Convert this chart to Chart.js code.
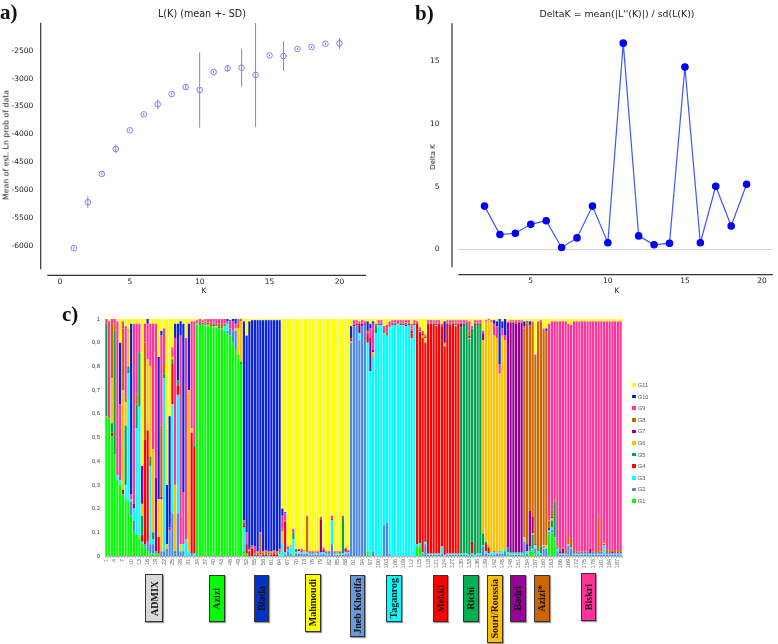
<!DOCTYPE html>
<html>
<head>
<meta charset="utf-8">
<script src="https://cdn.jsdelivr.net/npm/chart.js@4.4.1/dist/chart.umd.min.js"></script>
<style>
body{margin:0;background:#fff;width:778px;height:644px;position:relative;overflow:hidden;font-family:"DejaVu Sans",sans-serif}
canvas{position:absolute}
.t{position:absolute;white-space:nowrap;color:#222;transform:translate(-50%,-50%)}
.rot{transform:translate(-50%,-50%) rotate(-90deg)}
.pl{position:absolute;font:bold 21px "Liberation Serif",serif;color:#111;line-height:1}
.pop{position:absolute;border:1.5px solid #333;box-sizing:border-box;display:flex;align-items:center;justify-content:center;box-shadow:1px 1px 1px #999}
.pop span{writing-mode:vertical-rl;transform:rotate(180deg);font:bold 10px "Liberation Serif",serif;color:#111;white-space:nowrap}
.lg{position:absolute;font:5.5px "Liberation Sans",sans-serif;color:#555;display:flex;align-items:center}
.lg i{display:inline-block;width:3.5px;height:3.5px;margin-right:2.5px}
</style>
</head>
<body>
<canvas id="ca" width="390" height="300" style="left:0;top:0"></canvas>
<canvas id="cb" width="388" height="300" style="left:390px;top:0"></canvas>
<canvas id="cc" width="580" height="290" style="left:60px;top:300px"></canvas>

<div class="pl" style="left:0;top:2px">a)</div>
<div class="pl" style="left:415px;top:3px">b)</div>
<div class="pl" style="left:62px;top:304px">c)</div>

<div class="t" style="left:202px;top:13px;font-size:9.6px">L(K) (mean +- SD)</div>
<div class="t" style="left:617px;top:13px;font-size:9.4px">DeltaK = mean(|L''(K)|) / sd(L(K))</div>
<div class="t rot" style="left:6px;top:145px;font-size:7.8px">Mean of est. Ln prob of data</div>
<div class="t rot" style="left:433px;top:157px;font-size:7px">Delta K</div>
<div class="t" style="left:204px;top:290px;font-size:7.5px">K</div>
<div class="t" style="left:617px;top:290px;font-size:7.5px">K</div>

<div id="legend"></div>
<div id="pops"></div>

<script>
// ---- panel a : L(K) mean +- SD
const kVals = [1, 2, 3, 4, 5, 6, 7, 8, 9, 10, 11, 12, 13, 14, 15, 16, 17, 18, 19, 20];
const lkMean = [-6042, -5218, -4710, -4262, -3928, -3641, -3462, -3277, -3151, -3205,
                -2882, -2817, -2805, -2936, -2584, -2596, -2470, -2434, -2375, -2369];
const lkSd = [25, 104, 25, 80, 20, 25, 86, 25, 54, 675, 25, 60, 338, 935, 20, 266, 20, 20, 25, 100];
const aTicksY = [-6000, -5500, -5000, -4500, -4000, -3500, -3000, -2500];
const aTicksX = [0, 5, 10, 15, 20];

// ---- panel b : Delta K
const dkK = [2, 3, 4, 5, 6, 7, 8, 9, 10, 11, 12, 13, 14, 15, 16, 17, 18, 19];
const deltaK = [3.45, 1.19, 1.29, 2.0, 2.29, 0.16, 0.92, 3.45, 0.53, 16.42,
                1.08, 0.37, 0.5, 14.52, 0.53, 5.03, 1.87, 5.19];
const bTicksY = [0, 5, 10, 15];
const bTicksX = [5, 10, 15, 20];

// ---- panel c : membership per individual, columns G1..G11
const groups = ['G1', 'G2', 'G3', 'G4', 'G5', 'G6', 'G7', 'G8', 'G9', 'G10', 'G11'];
const groupColors = ['#00ff00', '#4f88e6', '#00ffff', '#ff0000', '#00a550', '#ffc000',
                     '#990099', '#cc6600', '#ff3399', '#0a22d8', '#ffff00'];

const admix = [
  [.59,0,0,0,.39,0,0,0,.02,0,0],
  [.58,0,0,0,0,0,0,0,.41,0,.01],
  [.505,0,0,.015,.04,.19,0,.23,.02,0,0],
  [.43,0,0,0,.52,0,0,.03,.02,0,0],
  [.32,0,.02,0,0,0,0,0,.65,0,.01],
  [.30,0,.02,0,0,0,0,0,.32,.26,.10],
  [.26,0,0,.02,0,.42,0,.26,.03,0,.01],
  [.24,0,.06,0,.25,.10,0,.02,.30,0,.03],
  [.23,0,.54,0,.03,.16,0,0,0,0,.04],
  [.17,.06,.01,0,0,0,0,0,.02,.72,.02],
  [.10,.05,.05,0,0,0,.02,0,.76,0,.02],
  [.09,0,.45,0,.10,0,0,.04,.30,0,.02],
  [.08,0,.55,0,.23,0,0,0,.12,0,.02],
  [.05,0,.01,.03,.08,.05,.16,0,0,0,.62],
  [.04,.01,0,.44,0,0,0,.41,.08,0,.02],
  [.02,.04,0,.47,0,.30,0,0,.15,.02,0],
  [.01,.04,.33,0,.04,.38,0,0,.18,0,.02],
  [.01,.04,.02,0,.03,.35,0,0,.53,0,.02],
  [.01,.01,0,0,0,0,.31,0,.65,0,.02],
  [.01,0,0,.07,0,.16,0,0,0,.60,.16],
  [0,.02,0,0,0,.22,.01,.30,.38,.02,.05],
  [0,.02,.73,0,.02,0,0,.04,.15,0,.04],
  [0,.03,0,0,0,.02,0,0,0,.25,.70],
  [0,.11,0,.01,0,0,0,0,0,.47,.41],
  [0,.18,.46,.17,.02,.01,0,0,.04,0,.12],
  [0,.01,0,0,.01,.28,0,0,.62,.06,.02],
  [0,.18,.50,.04,.02,0,0,0,0,.24,.02],
  [0,.02,0,0,0,.03,0,0,.88,.06,.01],
  [0,.02,.03,0,0,0,0,0,.22,.71,.02],
  [0,0,.07,0,0,0,0,0,.85,0,.08],
  [0,0,.02,0,0,.68,0,0,0,.28,.02],
  [0,.01,0,.51,0,.02,0,0,.45,0,.01],
  [0,0,.01,.45,.01,0,0,0,.52,0,.01]
];
const azizi = [
  [.975,0,.005,0,0,0,0,.005,.01,0,.005],
  [.975,0,0,0,.005,0,.005,.005,.01,0,0],
  [.975,0,0,0,0,0,0,.01,.01,0,.005],
  [.97,0,.005,0,.005,0,0,.01,.01,0,0],
  [.97,0,0,0,0,.005,0,.01,.015,0,0],
  [.97,0,0,0,.005,0,0,.01,.015,0,0],
  [.965,0,.005,0,0,0,.005,.01,.015,0,0],
  [.965,0,0,0,0,.005,0,.01,.02,0,0],
  [.96,0,0,0,.01,0,0,.01,.02,0,0],
  [.955,.005,0,0,0,0,0,.02,.02,0,0],
  [.95,0,.02,0,0,0,0,.01,.02,0,0],
  [.94,.01,.03,0,0,0,0,0,.01,.01,0],
  [.93,.03,0,0,0,0,0,0,.03,.005,.005],
  [.90,.05,0,0,0,0,0,0,.04,.01,0],
  [.87,.08,0,0,0,.01,0,0,.02,.02,0],
  [.85,0,0,0,0,.11,0,.02,.02,0,0],
  [.81,0,0,0,.01,.17,0,.01,0,0,0]
];
const biada = [
  [.01,.01,.10,.01,.01,0,0,0,.01,.84,.01],
  [.01,0,0,.04,0,0,0,0,.05,.83,.07],
  [0,0,0,.02,0,.005,0,0,.005,.96,.01],
  [0,0,0,.03,0,0,0,.005,.01,.95,.005],
  [0,.005,0,0,.005,0,0,0,.03,.955,.005],
  [0,0,0,.005,0,0,0,.01,.005,.975,.005],
  [0,.005,0,0,0,0,0,.09,.005,.895,.005],
  [0,0,0,.005,0,0,0,.01,.005,.975,.005],
  [0,0,0,.005,.005,0,0,.01,.005,.97,.005],
  [0,.005,0,0,0,0,0,.01,.005,.975,.005],
  [0,0,0,.005,0,0,0,.01,.005,.975,.005],
  [0,0,0,.005,0,0,.005,.01,.005,.97,.005],
  [0,0,0,.005,0,0,0,.01,.005,.975,.005],
  [0,0,.01,0,.005,0,0,.01,.005,.965,.005]
];
const mahmoudi = [
  [0,0,.055,0,0,.05,0,.005,.06,.03,.80],
  [0,.005,.01,.13,0,0,0,.005,.03,.005,.815],
  [0,.02,.01,0,0,0,.005,0,.005,0,.96],
  [0,.01,.025,0,0,.005,0,0,.005,0,.955],
  [.005,0,.065,0,.03,0,0,0,.015,0,.885],
  [0,.01,.005,0,.005,0,.005,0,.005,0,.97],
  [0,.01,.005,0,0,.005,.005,0,.005,0,.97],
  [0,.01,.005,0,0,0,.005,.005,.005,0,.97],
  [0,.01,.005,0,0,.005,0,0,.005,0,.975],
  [0,.01,.005,0,0,0,0,.15,.005,0,.83],
  [0,.005,.005,0,0,0,.005,0,.005,0,.98],
  [0,.005,.005,0,0,0,.005,0,.005,0,.98],
  [0,.005,.005,0,0,0,0,.005,.005,0,.98],
  [0,.005,.005,0,0,0,.005,0,.005,0,.98],
  [0,.005,.01,0,0,0,.14,0,.01,0,.835],
  [0,.01,.005,0,0,0,.01,.005,.005,0,.965],
  [0,.005,.005,0,0,0,.005,0,.005,0,.98],
  [0,.005,.005,0,0,0,.005,0,.005,0,.98],
  [0,.05,.10,0,0,0,.005,0,.015,0,.83],
  [0,.005,.005,0,0,0,.005,0,.005,0,.98],
  [0,.005,.005,0,0,0,0,.005,.005,0,.98],
  [0,.005,.005,0,0,0,.005,0,.005,0,.98],
  [0,.005,.005,0,.15,0,0,0,.01,0,.83],
  [0,.01,.005,.005,0,0,.01,0,.005,0,.965],
  [0,.01,.005,0,0,0,.005,0,.005,0,.975]
];
const jnebKhotifa = [
  [0,.90,.005,.01,0,0,0,0,.005,.05,.03],
  [0,.97,0,0,0,0,.005,.005,.015,0,.005],
  [0,.975,0,0,0,0,.005,.005,.01,0,.005],
  [0,.91,.03,0,0,0,.04,0,.01,0,.01],
  [0,.97,0,0,0,0,.01,.005,.01,0,.005],
  [0,.975,0,0,0,0,.005,0,.01,0,.01]
];
const taganrog = [
  [.02,0,.88,.04,0,0,0,0,.01,.04,.01],
  [0,0,.78,0,0,0,.14,0,.04,.02,.02],
  [0,.02,.82,0,0,.02,.01,0,.11,.01,.01],
  [0,0,.94,0,.03,0,0,0,.01,0,.02],
  [0,0,.975,0,0,0,.005,.005,.01,0,.005],
  [0,0,.975,0,0,0,.005,.005,.01,0,.005],
  [0,.13,.81,0,0,0,0,.01,.02,0,.03],
  [0,.14,.79,0,0,0,.005,.01,.03,0,.025],
  [0,.01,.955,0,0,0,0,.005,.02,0,.01],
  [0,0,.975,0,0,0,.005,.005,.01,0,.005],
  [0,0,.975,0,0,0,.005,.005,.01,0,.005],
  [0,0,.975,0,0,.005,.005,0,.01,0,.005],
  [0,0,.975,0,0,0,.005,.005,.01,0,.005],
  [0,0,.975,0,0,0,.005,.005,.01,0,.005],
  [0,0,.97,0,0,0,.005,.01,.01,0,.005],
  [0,0,.975,0,0,0,.005,.005,.01,0,.005],
  [0,0,.92,.02,0,0,.01,.01,.02,0,.02],
  [0,0,.975,0,0,0,.005,.005,.01,0,.005]
];
const mekki = [
  [.04,.005,.005,.93,0,0,0,0,.01,0,.01],
  [.04,.005,.01,.89,0,.005,.005,0,.01,0,.035],
  [0,.01,.005,.905,0,.01,.01,.005,.005,0,.05],
  [0,.05,.01,.84,0,.02,.005,.005,.005,0,.065],
  [0,.005,.005,.965,0,0,.005,.005,.01,0,.005],
  [0,.005,.005,.965,0,0,.005,.005,.01,0,.005],
  [0,.005,.005,.965,0,0,.005,.005,.01,0,.005],
  [0,.005,.005,.96,0,.005,.005,.005,.01,0,.005],
  [0,.005,.005,.965,0,0,.005,.005,.01,0,.005],
  [0,.01,.03,.93,0,0,0,0,.01,0,.02],
  [0,0,.005,.88,0,.01,0,0,.005,.09,.01],
  [0,.005,.005,.965,0,0,.005,.005,.01,0,.005],
  [0,.005,.005,.96,0,0,.005,.01,.01,0,.005],
  [0,.005,.005,.965,0,0,.005,.005,.01,0,.005],
  [0,.005,.005,.96,0,.005,.005,.005,.01,0,.005],
  [0,.005,.005,.965,0,0,.005,.005,.01,0,.005]
];
const richi = [
  [0,.005,.005,0,.955,0,.015,.005,.01,0,.005],
  [0,.005,.005,0,.965,0,.005,.005,.01,0,.005],
  [0,.005,.005,0,.97,0,.005,.005,.005,0,.005],
  [0,0,.005,0,.91,.005,.01,.02,.04,0,.01],
  [0,.005,.005,.05,.90,0,0,0,.01,0,.03],
  [0,0,.005,0,.97,0,.005,.005,.01,0,.005],
  [0,.005,.005,0,.965,0,.005,.005,.01,0,.005],
  [0,.005,.005,0,.965,0,.005,.005,.01,0,.005]
];
const souriRoussia = [
  [0,.04,.005,0,.05,.815,.03,0,.01,0,.05],
  [0,.01,.01,.03,.01,.93,0,0,.005,0,.005],
  [0,.005,.005,.025,.005,.955,0,0,.005,0,0],
  [0,.005,.01,0,0,.97,0,0,.01,0,.005],
  [0,.005,.01,.005,0,.91,0,0,.05,.015,.005],
  [0,.01,.005,0,0,.905,0,0,.05,.02,.01],
  [0,.01,.005,0,.005,.75,.005,0,.035,.19,0],
  [0,.01,.01,0,0,.91,0,0,.03,.03,.01],
  [0,.02,.01,0,0,.88,0,0,.02,.07,0]
];
const badri = [
  [.005,.005,.005,0,.02,0,.95,0,.005,0,.01],
  [0,.005,.005,0,.005,0,.97,.005,.005,0,.005],
  [0,.005,.005,0,.005,0,.97,.005,.005,0,.005],
  [0,.005,.005,0,.005,0,.965,.01,.005,0,.005],
  [0,.005,.005,0,.005,0,.97,.005,.005,0,.005],
  [0,.005,.005,0,.005,0,.97,.005,.005,0,.005]
];
const aziziStar = [
  [.01,.05,.01,0,0,.01,0,.88,.01,.02,.01],
  [0,.01,.01,0,0,0,.03,.93,.005,.005,.01],
  [.02,.01,0,0,.01,0,.15,.78,.005,.015,.01],
  [.02,.005,.005,0,.06,.005,.07,.82,.005,0,.01],
  [.01,.02,.01,0,0,.005,.005,.79,.01,0,.15],
  [.005,.005,.01,0,0,0,0,.96,.01,0,.01],
  [0,.005,.005,0,.03,0,0,.95,.005,0,.005],
  [0,.03,.005,.005,0,.005,0,.91,.005,0,.04],
  [0,.03,.005,0,0,.01,0,.90,.005,.01,.04]
];
const biskri = [
  [.09,.01,.01,0,0,0,.01,.03,.83,0,.02],
  [.10,.01,.01,0,.03,.01,.005,.03,.795,0,.01],
  [.07,.005,.005,0,.15,0,0,.01,.75,0,.01],
  [0,.02,.01,0,.005,0,0,.005,.95,0,.01],
  [0,.005,.005,0,0,0,.01,.01,.96,0,.01],
  [0,.005,.005,0,0,0,.02,.005,.955,0,.01],
  [0,.005,.005,0,0,0,.005,.01,.965,0,.01],
  [.005,.04,.005,0,0,0,0,.03,.90,0,.02],
  [0,.03,.005,0,0,0,0,.04,.90,0,.025],
  [0,.005,.005,0,0,0,.005,.01,.965,0,.01],
  [0,.005,.005,0,0,0,.005,.005,.97,0,.01],
  [0,.005,.005,0,0,0,.005,.005,.97,0,.01],
  [0,.005,.005,0,0,0,.005,.005,.97,0,.01],
  [0,.005,.005,0,0,0,.005,.005,.97,0,.01],
  [0,.005,.005,0,0,0,.005,.005,.97,0,.01],
  [0,.005,.005,0,0,0,.02,.005,.955,0,.01],
  [0,.005,.005,0,0,0,.005,.005,.97,0,.01],
  [0,.005,.005,0,0,0,.005,.01,.965,0,.01],
  [0,.005,.005,0,0,0,.005,.15,.825,0,.01],
  [0,.005,.005,0,0,0,.005,.005,.97,0,.01],
  [0,.005,.04,.005,0,.005,0,.005,.93,0,.01],
  [0,.005,.005,0,0,0,.005,.01,.965,0,.01],
  [0,.005,.005,0,0,0,.005,.01,.965,0,.01],
  [0,.005,.005,0,0,0,.01,.005,.965,0,.01],
  [0,.005,.005,0,0,0,.005,.01,.965,0,.01],
  [0,.005,.005,0,0,0,.005,.01,.965,0,.01],
  [0,.005,.005,0,0,0,.005,.01,.965,0,.01]
];

const qRows = [...admix, ...azizi, ...biada, ...mahmoudi, ...jnebKhotifa, ...taganrog,
               ...mekki, ...richi, ...souriRoussia, ...badri, ...aziziStar, ...biskri];
const idLabels = qRows.map((r, i) => String(i + 1));

// population name boxes under panel c
const popNames = ['ADMIX', 'Azizi', 'Biada', 'Mahmoudi', 'Jneb Khotifa', 'Taganrog',
                  'Mekki', 'Richi', 'Souri/Roussia', 'Badri', 'Azizi*', 'Biskri'];
const popColors = ['#d9d9d9', '#00ff00', '#0033cc', '#ffff00', '#6699dd', '#00ffff',
                   '#ff0000', '#00b050', '#ffc000', '#990099', '#cc6600', '#ff3399'];
const popBoxes = [
  [145, 574, 18, 48], [209, 575, 15.5, 47], [253.5, 575, 15.5, 47], [305, 574, 15.5, 58],
  [349.5, 575, 15.5, 62], [386, 575, 15.5, 47], [432.5, 575, 15.5, 47], [463, 575, 15.5, 47],
  [487, 575, 15.5, 68], [510, 575, 15.5, 47], [534, 575, 15.5, 47], [580.5, 573, 15.5, 48]
];

const spines = {
  id: 'spines',
  afterDraw(chart, args, o) {
    const { ctx, chartArea: a } = chart;
    ctx.save();
    ctx.strokeStyle = '#333';
    ctx.lineWidth = 1.2;
    ctx.beginPath();
    ctx.moveTo(a.left - o.dy, a.top); ctx.lineTo(a.left - o.dy, a.bottom);
    ctx.moveTo(a.left, a.bottom + o.dx); ctx.lineTo(a.right, a.bottom + o.dx);
    ctx.stroke();
    ctx.restore();
  }
};

const tickFont = { family: 'DejaVu Sans', size: 7.5 };

// panel a
const errPts = [];
kVals.forEach((k, i) => {
  errPts.push({ x: k, y: lkMean[i] - lkSd[i] }, { x: k, y: lkMean[i] + lkSd[i] }, { x: k, y: null });
});
new Chart(document.getElementById('ca'), {
  type: 'scatter',
  data: {
    datasets: [
      { data: kVals.map((k, i) => ({ x: k, y: lkMean[i] })), pointRadius: 2.8,
        pointBackgroundColor: 'rgba(0,0,0,0)', pointBorderColor: '#7f7fff', pointBorderWidth: 1, order: 1 },
      { data: errPts, showLine: true, spanGaps: false, borderColor: '#8c8c8c', borderWidth: 1,
        pointRadius: 0, order: 2 }
    ]
  },
  options: {
    responsive: false, animation: false, devicePixelRatio: 1,
    layout: { padding: { top: 22.7, right: 24, left: 0, bottom: 0 } },
    plugins: { legend: { display: false }, tooltip: { enabled: false }, spines: { dx: 6, dy: 6.6 } },
    scales: {
      x: { type: 'linear', min: -0.9, max: 21.9, grid: { display: false, drawTicks: false }, border: { display: false },
           afterBuildTicks: s => { s.ticks = aTicksX.map(v => ({ value: v })); },
           ticks: { padding: 8, font: tickFont, color: '#222', maxRotation: 0 },
           afterFit: s => { s.height = 30.7; } },
      y: { min: -6420, max: -1998, grid: { display: false, drawTicks: false }, border: { display: false },
           afterBuildTicks: s => { s.ticks = aTicksY.map(v => ({ value: v })); },
           ticks: { padding: 14, font: tickFont, color: '#222', callback: v => String(v) },
           afterFit: s => { s.width = 47.3; } }
    }
  },
  plugins: [spines]
});

// panel b
new Chart(document.getElementById('cb'), {
  type: 'line',
  data: {
    datasets: [{ data: dkK.map((k, i) => ({ x: k, y: deltaK[i] })), borderColor: '#3f55ff', borderWidth: 1.2,
                 pointRadius: 3.2, pointBackgroundColor: '#0000ff', pointBorderColor: '#0000ff', tension: 0 }]
  },
  options: {
    responsive: false, animation: false, devicePixelRatio: 1,
    layout: { padding: { top: 21.7, right: 1.3, left: 0, bottom: 0 } },
    plugins: { legend: { display: false }, tooltip: { enabled: false }, spines: { dx: 7.4, dy: 6.3 } },
    scales: {
      x: { type: 'linear', min: 0.3, max: 20.7, grid: { display: false, drawTicks: false }, border: { display: false },
           afterBuildTicks: s => { s.ticks = bTicksX.map(v => ({ value: v })); },
           ticks: { padding: 9, font: tickFont, color: '#222', maxRotation: 0 },
           afterFit: s => { s.height = 32.7; } },
      y: { min: -1.42, max: 18, border: { display: false },
           grid: { drawTicks: false, color: c => (c.tick && c.tick.value === 0) ? '#d6d6d6' : 'rgba(0,0,0,0)' },
           afterBuildTicks: s => { s.ticks = bTicksY.map(v => ({ value: v })); },
           ticks: { padding: 18.8, font: tickFont, color: '#222' },
           afterFit: s => { s.width = 68.3; } }
    }
  },
  plugins: [spines]
});

// panel c
new Chart(document.getElementById('cc'), {
  type: 'bar',
  data: {
    labels: idLabels,
    datasets: groups.map((g, gi) => ({
      label: g, data: qRows.map(r => r[gi]), backgroundColor: groupColors[gi],
      barPercentage: 0.8, categoryPercentage: 1, borderWidth: 0
    }))
  },
  options: {
    responsive: false, animation: false, devicePixelRatio: 1,
    layout: { padding: { top: 19, right: 18, left: 0, bottom: 0 } },
    plugins: { legend: { display: false }, tooltip: { enabled: false } },
    scales: {
      x: { stacked: true, grid: { display: true, drawOnChartArea: false, tickLength: 2, color: '#b5b5b5' },
           border: { display: true, color: '#b5b5b5' },
           ticks: { autoSkip: false, maxRotation: 90, minRotation: 90, padding: 1,
                    font: { family: 'Liberation Sans', size: 5.5 }, color: '#666',
                    callback(v, i) { return i % 3 === 0 ? this.getLabelForValue(v) : ''; } },
           afterFit: s => { s.height = 34; } },
      y: { stacked: true, min: 0, max: 1, grid: { display: false, drawTicks: false }, border: { display: false },
           ticks: { stepSize: 0.1, padding: 5, font: { family: 'Liberation Sans', size: 6 }, color: '#444',
                    callback: v => (v === 0 ? '0' : v === 1 ? '1' : v.toFixed(1).replace('.', ',')) },
           afterFit: s => { s.width = 45; } }
    }
  }
});

// legend for panel c (G11 at top)
const lgBox = document.getElementById('legend');
groups.slice().reverse().forEach((g, i) => {
  const gi = groups.length - 1 - i;
  const d = document.createElement('div');
  d.className = 'lg';
  d.style.left = '632px';
  d.style.top = (382 + i * 11.6) + 'px';
  d.innerHTML = '<i style="background:' + groupColors[gi] + '"></i>' + g;
  lgBox.appendChild(d);
});

// population boxes
const popBox = document.getElementById('pops');
popNames.forEach((n, i) => {
  const b = popBoxes[i];
  const d = document.createElement('div');
  d.className = 'pop';
  d.style.cssText = 'left:' + b[0] + 'px;top:' + b[1] + 'px;width:' + b[2] + 'px;height:' + b[3] + 'px;background:' + popColors[i];
  d.innerHTML = '<span>' + n + '</span>';
  popBox.appendChild(d);
});
</script>
</body>
</html>
